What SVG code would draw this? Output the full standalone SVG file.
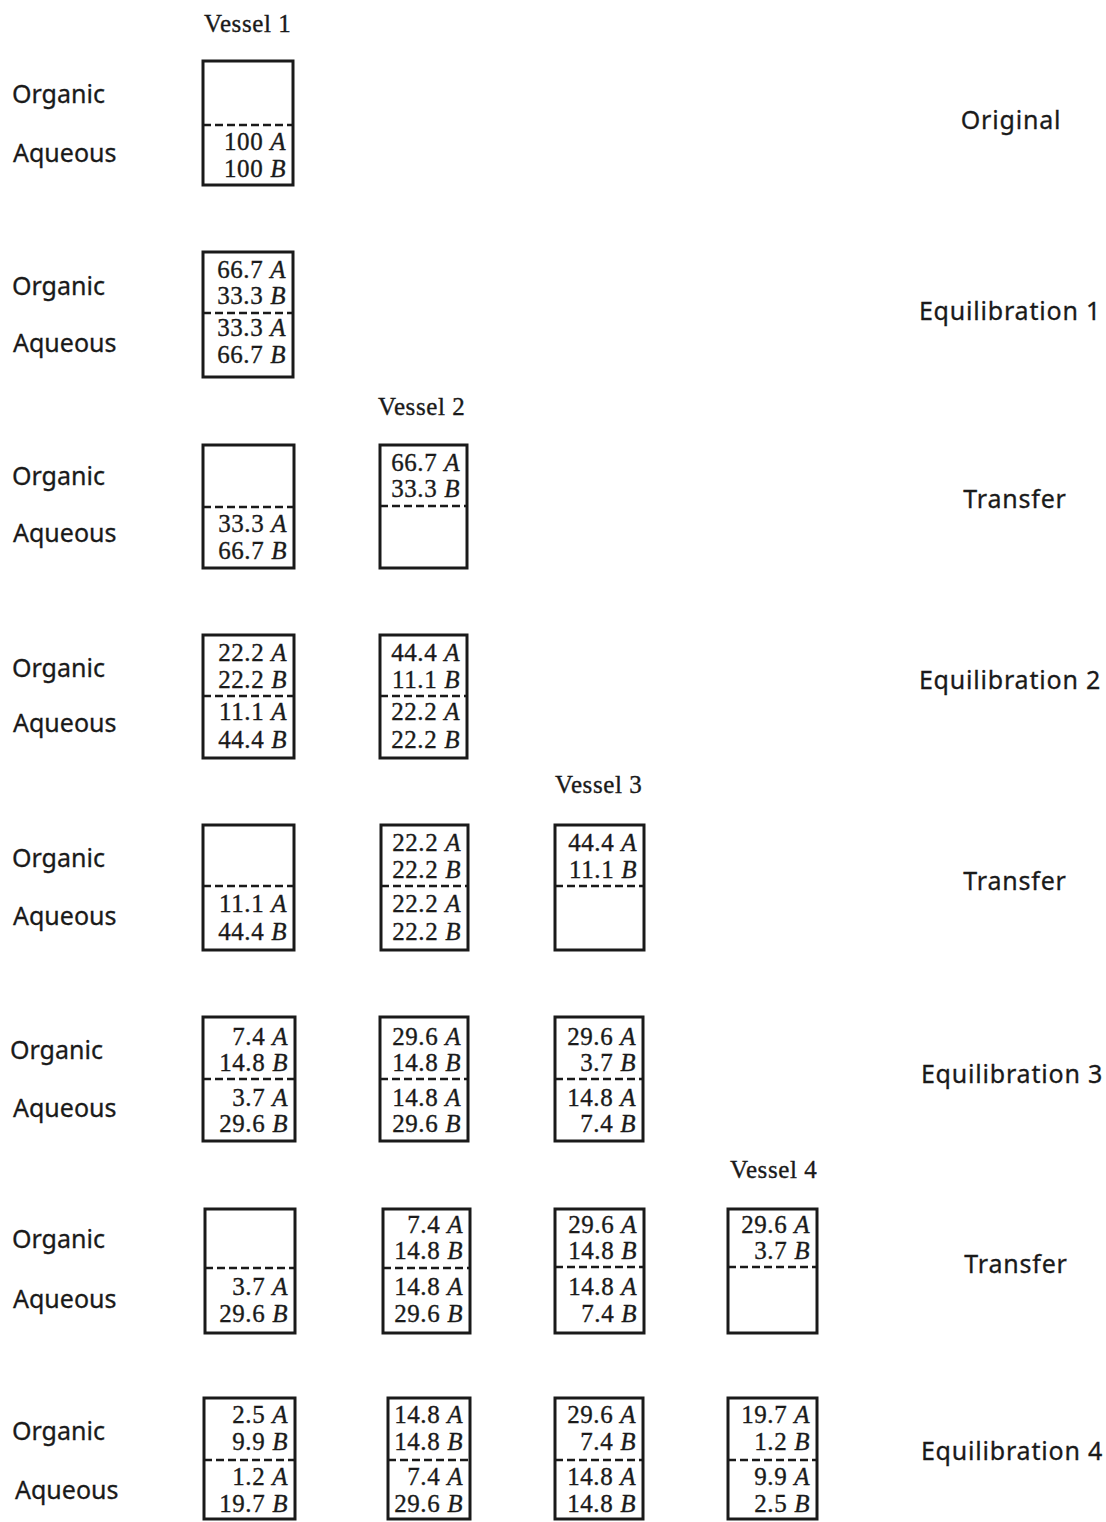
<svg xmlns="http://www.w3.org/2000/svg" width="1106" height="1522" viewBox="0 0 1106 1522">
<style>
.bx{fill:#fff;stroke:#1a1a1a;stroke-width:3}
.dl{stroke:#1a1a1a;stroke-width:2.4;stroke-dasharray:8 4}
.n{font-family:"Liberation Serif","Times New Roman",serif;font-size:25px;fill:#1a1a1a;stroke:#1a1a1a;stroke-width:0.35;letter-spacing:0.6px;text-anchor:end}
.i{font-style:italic}
.v{font-family:"Liberation Serif","Times New Roman",serif;font-size:25px;fill:#1a1a1a;stroke:#1a1a1a;stroke-width:0.35;letter-spacing:0.6px}
.lb{font-family:"Noto Sans","Open Sans",sans-serif;font-size:25px;fill:#1a1a1a;stroke:#1a1a1a;stroke-width:0.3}
.rl{font-family:"Noto Sans","Open Sans",sans-serif;font-size:25px;fill:#1a1a1a;stroke:#1a1a1a;stroke-width:0.3;letter-spacing:0.8px;text-anchor:middle}
</style>
<rect width="1106" height="1522" fill="#fff"/>

<g id="vessel-labels">
<text class="v" x="204" y="32">Vessel 1</text>
<text class="v" x="378" y="415">Vessel 2</text>
<text class="v" x="555" y="793">Vessel 3</text>
<text class="v" x="730" y="1178">Vessel 4</text>
</g>

<g id="phase-labels">
<text class="lb" x="12" y="103">Organic</text><text class="lb" x="13" y="162">Aqueous</text>
<text class="lb" x="12" y="295">Organic</text><text class="lb" x="13" y="352">Aqueous</text>
<text class="lb" x="12" y="485">Organic</text><text class="lb" x="13" y="542">Aqueous</text>
<text class="lb" x="12" y="677">Organic</text><text class="lb" x="13" y="732">Aqueous</text>
<text class="lb" x="12" y="867">Organic</text><text class="lb" x="13" y="925">Aqueous</text>
<text class="lb" x="10" y="1059">Organic</text><text class="lb" x="13" y="1117">Aqueous</text>
<text class="lb" x="12" y="1248">Organic</text><text class="lb" x="13" y="1308">Aqueous</text>
<text class="lb" x="12" y="1440">Organic</text><text class="lb" x="15" y="1499">Aqueous</text>
</g>

<g id="step-labels">
<text class="rl" x="1011" y="129">Original</text>
<text class="rl" x="1010" y="320">Equilibration 1</text>
<text class="rl" x="1015" y="508">Transfer</text>
<text class="rl" x="1010" y="689">Equilibration 2</text>
<text class="rl" x="1015" y="890">Transfer</text>
<text class="rl" x="1012" y="1083">Equilibration 3</text>
<text class="rl" x="1016" y="1273">Transfer</text>
<text class="rl" x="1012" y="1460">Equilibration 4</text>
</g>

<!-- Row 1 -->
<g id="r1c1"><rect class="bx" x="203" y="61" width="90" height="124"/><line class="dl" x1="203" y1="125" x2="293" y2="125"/>
<text class="n" x="286" y="150">100 <tspan class="i">A</tspan></text><text class="n" x="286" y="177">100 <tspan class="i">B</tspan></text></g>

<!-- Row 2 -->
<g id="r2c1"><rect class="bx" x="203" y="252" width="90" height="125"/><line class="dl" x1="203" y1="313" x2="293" y2="313"/>
<text class="n" x="286" y="278">66.7 <tspan class="i">A</tspan></text><text class="n" x="286" y="304">33.3 <tspan class="i">B</tspan></text>
<text class="n" x="286" y="336">33.3 <tspan class="i">A</tspan></text><text class="n" x="286" y="363">66.7 <tspan class="i">B</tspan></text></g>

<!-- Row 3 -->
<g id="r3c1"><rect class="bx" x="203" y="445" width="91" height="123"/><line class="dl" x1="203" y1="507" x2="294" y2="507"/>
<text class="n" x="287" y="532">33.3 <tspan class="i">A</tspan></text><text class="n" x="287" y="559">66.7 <tspan class="i">B</tspan></text></g>
<g id="r3c2"><rect class="bx" x="380" y="445" width="87" height="123"/><line class="dl" x1="380" y1="506" x2="467" y2="506"/>
<text class="n" x="460" y="471">66.7 <tspan class="i">A</tspan></text><text class="n" x="460" y="497">33.3 <tspan class="i">B</tspan></text></g>

<!-- Row 4 -->
<g id="r4c1"><rect class="bx" x="203" y="635" width="91" height="123"/><line class="dl" x1="203" y1="696" x2="294" y2="696"/>
<text class="n" x="287" y="661">22.2 <tspan class="i">A</tspan></text><text class="n" x="287" y="688">22.2 <tspan class="i">B</tspan></text>
<text class="n" x="287" y="720">11.1 <tspan class="i">A</tspan></text><text class="n" x="287" y="748">44.4 <tspan class="i">B</tspan></text></g>
<g id="r4c2"><rect class="bx" x="380" y="635" width="87" height="123"/><line class="dl" x1="380" y1="696" x2="467" y2="696"/>
<text class="n" x="460" y="661">44.4 <tspan class="i">A</tspan></text><text class="n" x="460" y="688">11.1 <tspan class="i">B</tspan></text>
<text class="n" x="460" y="720">22.2 <tspan class="i">A</tspan></text><text class="n" x="460" y="748">22.2 <tspan class="i">B</tspan></text></g>

<!-- Row 5 -->
<g id="r5c1"><rect class="bx" x="203" y="825" width="91" height="125"/><line class="dl" x1="203" y1="886" x2="294" y2="886"/>
<text class="n" x="287" y="912">11.1 <tspan class="i">A</tspan></text><text class="n" x="287" y="940">44.4 <tspan class="i">B</tspan></text></g>
<g id="r5c2"><rect class="bx" x="381" y="825" width="87" height="125"/><line class="dl" x1="381" y1="886" x2="468" y2="886"/>
<text class="n" x="461" y="851">22.2 <tspan class="i">A</tspan></text><text class="n" x="461" y="878">22.2 <tspan class="i">B</tspan></text>
<text class="n" x="461" y="912">22.2 <tspan class="i">A</tspan></text><text class="n" x="461" y="940">22.2 <tspan class="i">B</tspan></text></g>
<g id="r5c3"><rect class="bx" x="555" y="825" width="89" height="125"/><line class="dl" x1="555" y1="886" x2="644" y2="886"/>
<text class="n" x="637" y="851">44.4 <tspan class="i">A</tspan></text><text class="n" x="637" y="878">11.1 <tspan class="i">B</tspan></text></g>

<!-- Row 6 -->
<g id="r6c1"><rect class="bx" x="203" y="1017" width="92" height="124"/><line class="dl" x1="203" y1="1079" x2="295" y2="1079"/>
<text class="n" x="288" y="1045">7.4 <tspan class="i">A</tspan></text><text class="n" x="288" y="1071">14.8 <tspan class="i">B</tspan></text>
<text class="n" x="288" y="1106">3.7 <tspan class="i">A</tspan></text><text class="n" x="288" y="1132">29.6 <tspan class="i">B</tspan></text></g>
<g id="r6c2"><rect class="bx" x="380" y="1017" width="88" height="124"/><line class="dl" x1="380" y1="1079" x2="468" y2="1079"/>
<text class="n" x="461" y="1045">29.6 <tspan class="i">A</tspan></text><text class="n" x="461" y="1071">14.8 <tspan class="i">B</tspan></text>
<text class="n" x="461" y="1106">14.8 <tspan class="i">A</tspan></text><text class="n" x="461" y="1132">29.6 <tspan class="i">B</tspan></text></g>
<g id="r6c3"><rect class="bx" x="555" y="1017" width="88" height="124"/><line class="dl" x1="555" y1="1079" x2="643" y2="1079"/>
<text class="n" x="636" y="1045">29.6 <tspan class="i">A</tspan></text><text class="n" x="636" y="1071">3.7 <tspan class="i">B</tspan></text>
<text class="n" x="636" y="1106">14.8 <tspan class="i">A</tspan></text><text class="n" x="636" y="1132">7.4 <tspan class="i">B</tspan></text></g>

<!-- Row 7 -->
<g id="r7c1"><rect class="bx" x="205" y="1209" width="90" height="124"/><line class="dl" x1="205" y1="1268" x2="295" y2="1268"/>
<text class="n" x="288" y="1295">3.7 <tspan class="i">A</tspan></text><text class="n" x="288" y="1322">29.6 <tspan class="i">B</tspan></text></g>
<g id="r7c2"><rect class="bx" x="383" y="1209" width="87" height="124"/><line class="dl" x1="383" y1="1268" x2="470" y2="1268"/>
<text class="n" x="463" y="1233">7.4 <tspan class="i">A</tspan></text><text class="n" x="463" y="1259">14.8 <tspan class="i">B</tspan></text>
<text class="n" x="463" y="1295">14.8 <tspan class="i">A</tspan></text><text class="n" x="463" y="1322">29.6 <tspan class="i">B</tspan></text></g>
<g id="r7c3"><rect class="bx" x="555" y="1209" width="89" height="124"/><line class="dl" x1="555" y1="1267" x2="644" y2="1267"/>
<text class="n" x="637" y="1233">29.6 <tspan class="i">A</tspan></text><text class="n" x="637" y="1259">14.8 <tspan class="i">B</tspan></text>
<text class="n" x="637" y="1295">14.8 <tspan class="i">A</tspan></text><text class="n" x="637" y="1322">7.4 <tspan class="i">B</tspan></text></g>
<g id="r7c4"><rect class="bx" x="728" y="1209" width="89" height="124"/><line class="dl" x1="728" y1="1267" x2="817" y2="1267"/>
<text class="n" x="810" y="1233">29.6 <tspan class="i">A</tspan></text><text class="n" x="810" y="1259">3.7 <tspan class="i">B</tspan></text></g>

<!-- Row 8 -->
<g id="r8c1"><rect class="bx" x="204" y="1398" width="91" height="121"/><line class="dl" x1="204" y1="1460" x2="295" y2="1460"/>
<text class="n" x="288" y="1423">2.5 <tspan class="i">A</tspan></text><text class="n" x="288" y="1450">9.9 <tspan class="i">B</tspan></text>
<text class="n" x="288" y="1485">1.2 <tspan class="i">A</tspan></text><text class="n" x="288" y="1512">19.7 <tspan class="i">B</tspan></text></g>
<g id="r8c2"><rect class="bx" x="388" y="1398" width="82" height="121"/><line class="dl" x1="388" y1="1460" x2="470" y2="1460"/>
<text class="n" x="463" y="1423">14.8 <tspan class="i">A</tspan></text><text class="n" x="463" y="1450">14.8 <tspan class="i">B</tspan></text>
<text class="n" x="463" y="1485">7.4 <tspan class="i">A</tspan></text><text class="n" x="463" y="1512">29.6 <tspan class="i">B</tspan></text></g>
<g id="r8c3"><rect class="bx" x="555" y="1398" width="88" height="121"/><line class="dl" x1="555" y1="1460" x2="643" y2="1460"/>
<text class="n" x="636" y="1423">29.6 <tspan class="i">A</tspan></text><text class="n" x="636" y="1450">7.4 <tspan class="i">B</tspan></text>
<text class="n" x="636" y="1485">14.8 <tspan class="i">A</tspan></text><text class="n" x="636" y="1512">14.8 <tspan class="i">B</tspan></text></g>
<g id="r8c4"><rect class="bx" x="728" y="1398" width="89" height="121"/><line class="dl" x1="728" y1="1460" x2="817" y2="1460"/>
<text class="n" x="810" y="1423">19.7 <tspan class="i">A</tspan></text><text class="n" x="810" y="1450">1.2 <tspan class="i">B</tspan></text>
<text class="n" x="810" y="1485">9.9 <tspan class="i">A</tspan></text><text class="n" x="810" y="1512">2.5 <tspan class="i">B</tspan></text></g>

<g id="connectors"></g>
</svg>
